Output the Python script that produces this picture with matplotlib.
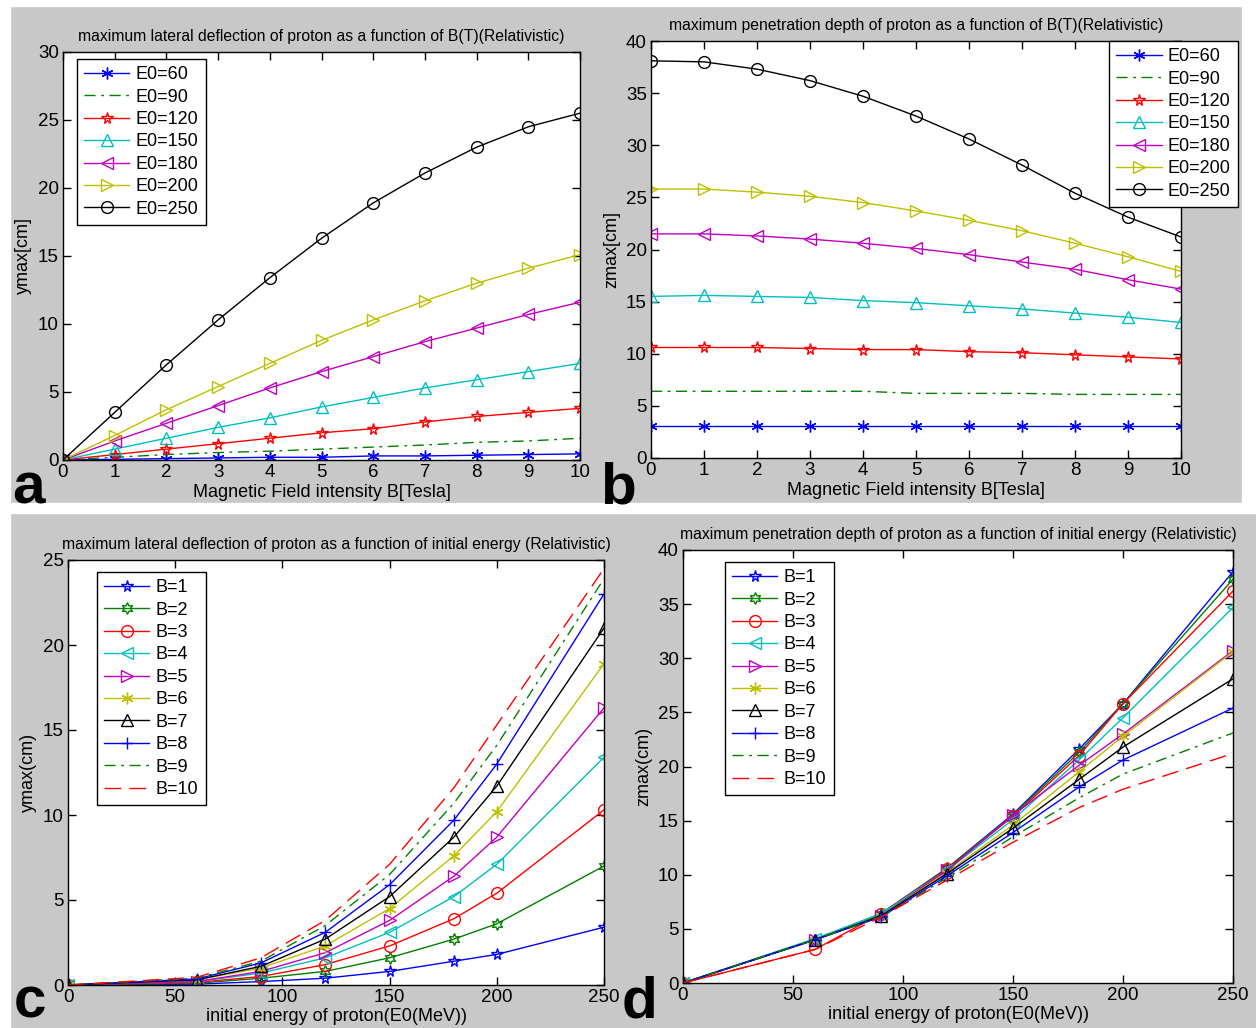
import matplotlib
matplotlib.use("Agg")
import matplotlib.pyplot as plt
from matplotlib.patches import Rectangle

plt.rcParams['font.family'] = ['Liberation Sans', 'DejaVu Sans']

# ---- data ----
B = [0, 1, 2, 3, 4, 5, 6, 7, 8, 9, 10]
E0_labels = ["E0=60", "E0=90", "E0=120", "E0=150", "E0=180", "E0=200", "E0=250"]

# panel a: ymax [cm] vs B, one list per E0
ya_60 = [0, 0.05, 0.1, 0.15, 0.2, 0.2, 0.3, 0.3, 0.35, 0.4, 0.45]
ya_90 = [0, 0.2, 0.4, 0.55, 0.65, 0.8, 0.95, 1.1, 1.3, 1.4, 1.6]
ya_120 = [0, 0.4, 0.8, 1.2, 1.6, 2.0, 2.3, 2.8, 3.2, 3.5, 3.8]
ya_150 = [0, 0.8, 1.6, 2.4, 3.1, 3.9, 4.6, 5.3, 5.9, 6.5, 7.1]
ya_180 = [0, 1.4, 2.7, 4.0, 5.3, 6.5, 7.6, 8.7, 9.7, 10.7, 11.6]
ya_200 = [0, 1.8, 3.7, 5.4, 7.1, 8.8, 10.3, 11.7, 13.0, 14.1, 15.1]
ya_250 = [0, 3.5, 7.0, 10.3, 13.4, 16.3, 18.9, 21.1, 23.0, 24.5, 25.5]

# panel b: zmax [cm] vs B
zb_60 = [3.1, 3.1, 3.1, 3.1, 3.1, 3.1, 3.1, 3.1, 3.1, 3.1, 3.1]
zb_90 = [6.4, 6.4, 6.4, 6.4, 6.4, 6.2, 6.2, 6.2, 6.1, 6.1, 6.1]
zb_120 = [10.6, 10.6, 10.6, 10.5, 10.4, 10.4, 10.2, 10.1, 9.9, 9.7, 9.5]
zb_150 = [15.5, 15.6, 15.5, 15.4, 15.1, 14.9, 14.6, 14.3, 13.9, 13.5, 13.0]
zb_180 = [21.5, 21.5, 21.3, 21.0, 20.6, 20.1, 19.5, 18.8, 18.1, 17.1, 16.2]
zb_200 = [25.8, 25.8, 25.5, 25.1, 24.5, 23.7, 22.8, 21.8, 20.6, 19.3, 17.9]
zb_250 = [38.1, 38.0, 37.3, 36.2, 34.7, 32.8, 30.6, 28.1, 25.4, 23.1, 21.2]

E0 = [0, 60, 90, 120, 150, 180, 200, 250]
B_labels = ["B=1", "B=2", "B=3", "B=4", "B=5", "B=6", "B=7", "B=8", "B=9", "B=10"]

# panel c: ymax (cm) vs E0, one list per B
yc_1 = [0, 0.05, 0.2, 0.4, 0.8, 1.4, 1.8, 3.4]
yc_2 = [0, 0.1, 0.4, 0.8, 1.6, 2.7, 3.6, 7.0]
yc_3 = [0, 0.15, 0.5, 1.2, 2.3, 3.9, 5.4, 10.3]
yc_4 = [0, 0.2, 0.7, 1.6, 3.1, 5.2, 7.1, 13.4]
yc_5 = [0, 0.2, 0.8, 1.9, 3.8, 6.4, 8.7, 16.3]
yc_6 = [0, 0.3, 1.0, 2.3, 4.5, 7.6, 10.2, 18.9]
yc_7 = [0, 0.3, 1.1, 2.7, 5.2, 8.7, 11.7, 21.0]
yc_8 = [0, 0.35, 1.3, 3.1, 5.9, 9.7, 13.0, 23.0]
yc_9 = [0, 0.4, 1.4, 3.5, 6.5, 10.7, 14.1, 23.9]
yc_10 = [0, 0.45, 1.6, 3.8, 7.1, 11.6, 15.3, 24.5]

# panel d: zmax (cm) vs E0
zd_1 = [0, 4.0, 6.4, 10.6, 15.6, 21.6, 25.8, 38.0]
zd_2 = [0, 4.0, 6.4, 10.6, 15.5, 21.3, 25.8, 37.3]
zd_3 = [0, 3.1, 6.4, 10.5, 15.4, 21.0, 25.8, 36.2]
zd_4 = [0, 4.1, 6.4, 10.4, 15.1, 20.6, 24.5, 34.7]
zd_5 = [0, 4.0, 6.2, 10.4, 15.5, 20.1, 23.0, 30.7]
zd_6 = [0, 4.0, 6.2, 10.2, 14.6, 19.5, 22.8, 30.6]
zd_7 = [0, 4.0, 6.2, 10.1, 14.3, 18.8, 21.8, 28.1]
zd_8 = [0, 4.0, 6.1, 9.9, 13.9, 18.1, 20.6, 25.4]
zd_9 = [0, 4.0, 6.1, 9.7, 13.5, 17.1, 19.3, 23.1]
zd_10 = [0, 3.1, 6.1, 9.5, 13.0, 16.2, 17.9, 21.2]

# ---- MATLAB-like styles ----
mb, mg, mr = (0, 0, 1), (0, 0.5, 0), (1, 0, 0)
mc, mm, my, mk = (0, 0.75, 0.75), (0.75, 0, 0.75), (0.75, 0.75, 0), (0, 0, 0)
DASHDOT = (0, (8, 4, 2, 4))
DASHED = (0, (12, 6))
ASTER = (6, 2, 0)
HEXA = (6, 1, 0)

styles_E = [(mb, '-', ASTER), (mg, DASHDOT, None), (mr, '-', '*'), (mc, '-', '^'),
            (mm, '-', '<'), (my, '-', '>'), (mk, '-', 'o')]
styles_B = [(mb, '-', '*'), (mg, '-', HEXA), (mr, '-', 'o'), (mc, '-', '<'),
            (mm, '-', '>'), (my, '-', ASTER), (mk, '-', '^'), (mb, '-', '+'),
            (mg, DASHDOT, None), (mr, DASHED, None)]

W, H = 1256, 1028
GRAY = '#c8c8c8'
fig = plt.figure(figsize=(W / 100, H / 100), dpi=100, facecolor=GRAY)

# white framing strips like the scanned composite
for (x0, y0, w, h) in [(0, 503, W, 10), (0, 0, 10, H), (0, 0, W, 6), (1242, 0, 14, 503)]:
    fig.patches.append(Rectangle((x0 / W, 1 - (y0 + h) / H), w / W, h / H,
                                 transform=fig.transFigure, color='white', zorder=0))


def px_axes(l, r, t, b):
    return fig.add_axes([l / W, 1 - b / H, (r - l) / W, (b - t) / H])


def style_axes(ax):
    ax.tick_params(direction='in', top=True, right=True, length=6, width=1,
                   labelsize=13.5, pad=3, colors='black')
    for s in ax.spines.values():
        s.set_linewidth(1.0)


def draw(ax, x, series, styles, labels):
    for y, (c, ls, mk_), lab in zip(series, styles, labels):
        ax.plot(x, y, color=c, linestyle=ls, marker=mk_, markersize=8.5,
                markerfacecolor='none', markeredgecolor=c, markeredgewidth=1.0,
                linewidth=1.0, label=lab)


def legend(ax, x0, y0, loc='upper left'):
    ax.legend(loc=loc, bbox_to_anchor=(x0 / W, 1 - y0 / H),
              bbox_transform=fig.transFigure, fontsize=13, frameon=True,
              fancybox=False, edgecolor='black', framealpha=1, handlelength=2.5,
              labelspacing=0.3, borderpad=0.4, handletextpad=0.35, borderaxespad=0)
    ax.get_legend().get_frame().set_linewidth(1.0)


# ---- panel a ----
ax = px_axes(63, 580, 52, 460)
draw(ax, B, [ya_60, ya_90, ya_120, ya_150, ya_180, ya_200, ya_250], styles_E, E0_labels)
ax.set_xlim(0, 10)
ax.set_ylim(0, 30)
ax.set_xticks(range(0, 11))
ax.set_yticks(range(0, 31, 5))
style_axes(ax)
ax.set_title("maximum lateral deflection of proton as a function of B(T)(Relativistic)",
             fontsize=11.3, pad=8)
ax.set_xlabel("Magnetic Field intensity B[Tesla]", fontsize=13, labelpad=2)
ax.set_ylabel("ymax[cm]", fontsize=13, labelpad=4)
legend(ax, 77, 59)

# ---- panel b ----
ax = px_axes(651, 1181, 41, 458)
draw(ax, B, [zb_60, zb_90, zb_120, zb_150, zb_180, zb_200, zb_250], styles_E, E0_labels)
ax.set_xlim(0, 10)
ax.set_ylim(0, 40)
ax.set_xticks(range(0, 11))
ax.set_yticks(range(0, 41, 5))
style_axes(ax)
ax.set_title("maximum penetration depth of proton as a function of B(T)(Relativistic)",
             fontsize=11.3, pad=8)
ax.set_xlabel("Magnetic Field intensity B[Tesla]", fontsize=13, labelpad=2)
ax.set_ylabel("zmax[cm]", fontsize=13, labelpad=4)
legend(ax, 1238, 41, loc='upper right')

# ---- panel c ----
ax = px_axes(68, 604, 560, 985)
draw(ax, E0, [yc_1, yc_2, yc_3, yc_4, yc_5, yc_6, yc_7, yc_8, yc_9, yc_10], styles_B, B_labels)
ax.set_xlim(0, 250)
ax.set_ylim(0, 25)
ax.set_xticks(range(0, 251, 50))
ax.set_yticks(range(0, 26, 5))
style_axes(ax)
ax.set_title("maximum lateral deflection of proton as a function of initial energy (Relativistic)",
             fontsize=11.3, pad=8)
ax.set_xlabel("initial energy of proton(E0(MeV))", fontsize=13, labelpad=1)
ax.set_ylabel("ymax(cm)", fontsize=13, labelpad=4)
legend(ax, 97, 572)

# ---- panel d ----
ax = px_axes(683, 1233, 550, 983)
draw(ax, E0, [zd_1, zd_2, zd_3, zd_4, zd_5, zd_6, zd_7, zd_8, zd_9, zd_10], styles_B, B_labels)
ax.set_xlim(0, 250)
ax.set_ylim(0, 40)
ax.set_xticks(range(0, 251, 50))
ax.set_yticks(range(0, 41, 5))
style_axes(ax)
ax.set_title("maximum penetration depth of proton as a function of initial energy (Relativistic)",
             fontsize=11.3, pad=8)
ax.set_xlabel("initial energy of proton(E0(MeV))", fontsize=13, labelpad=1)
ax.set_ylabel("zmax(cm)", fontsize=13, labelpad=4)
legend(ax, 725, 562)

# ---- panel letters ----
for letter, x, y in [("a", 12, 503), ("b", 600, 503), ("c", 14, 1018), ("d", 622, 1018)]:
    fig.text(x / W, 1 - y / H, letter, fontsize=42, fontweight='bold',
             ha='left', va='baseline')

fig.savefig("out.png", dpi=100, facecolor=GRAY)
